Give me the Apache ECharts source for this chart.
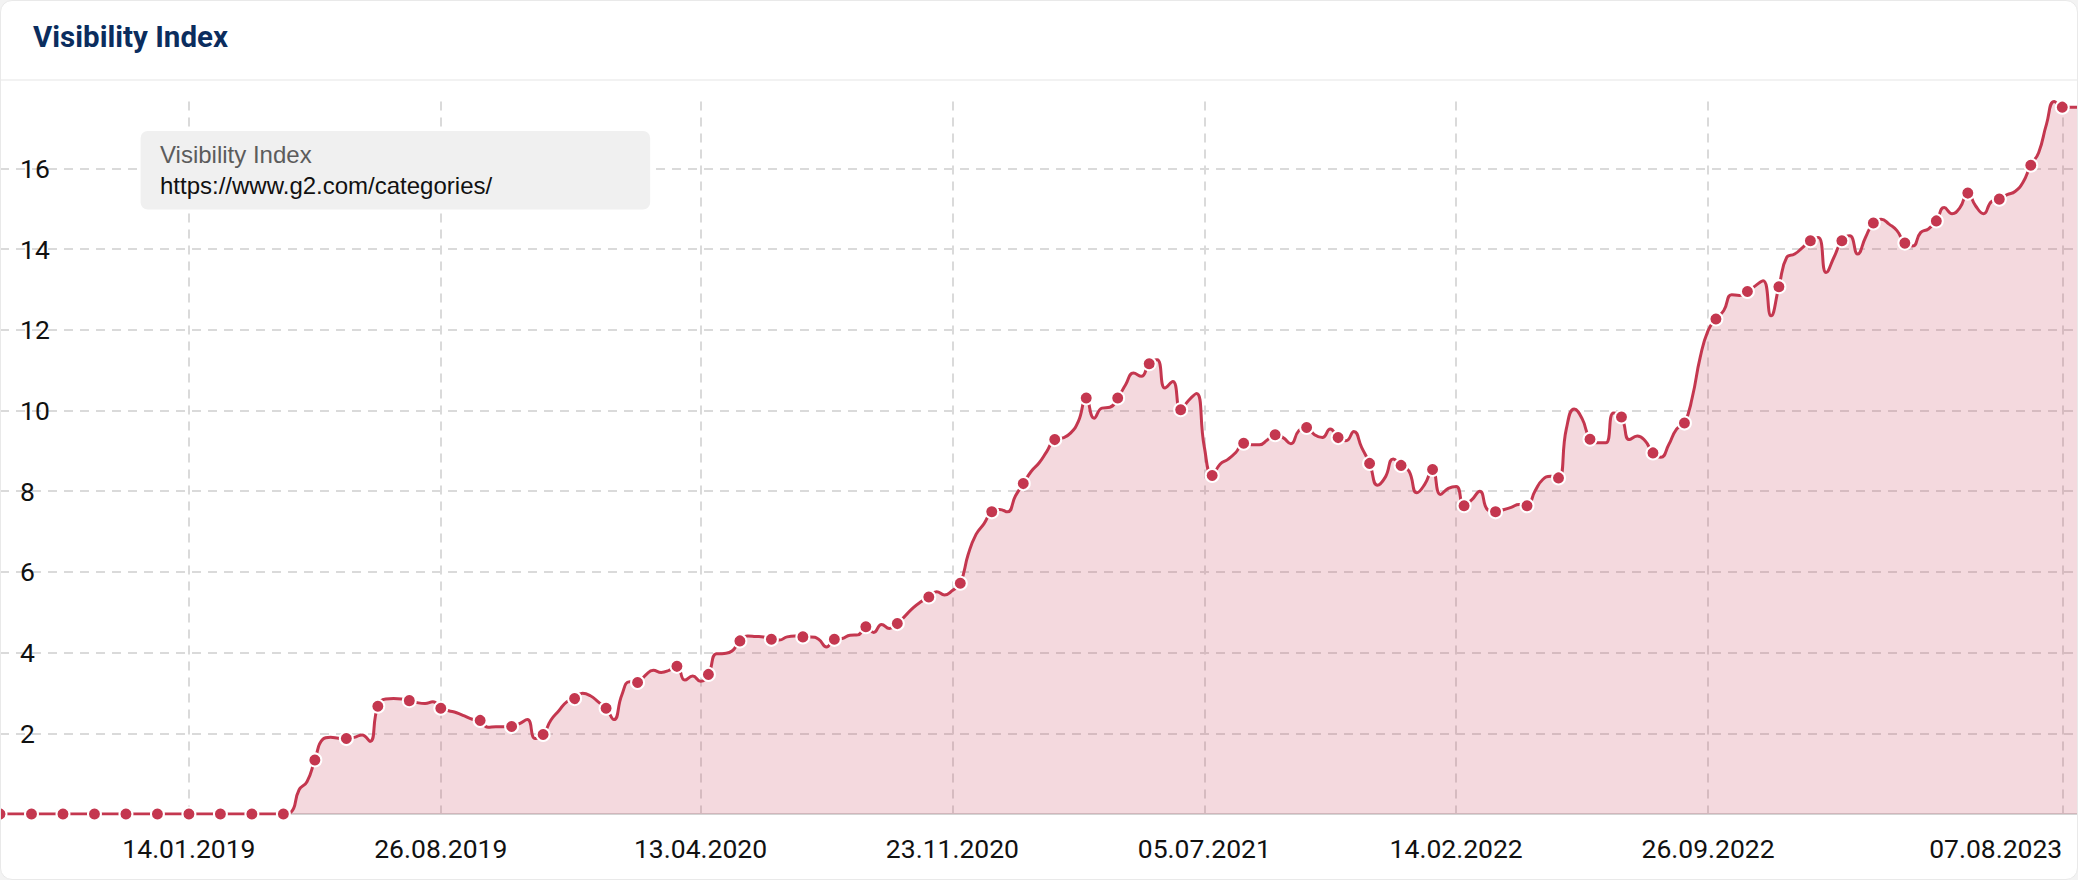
<!DOCTYPE html>
<html>
<head>
<meta charset="utf-8">
<script src="https://cdn.jsdelivr.net/npm/echarts@6/dist/echarts.min.js"></script>
<style>
html, body { margin: 0; padding: 0; width: 2078px; height: 880px; background: #f3f3f3; overflow: hidden; }
#card { position: absolute; left: 0; top: 0; width: 2078px; height: 880px; box-sizing: border-box; background: #fff; border: 1px solid #e9e9e9; border-radius: 12px; overflow: hidden; }
#title { position: absolute; left: 32px; top: 18.5px; margin: 0; font-family: Roboto, sans-serif; font-weight: 700; font-size: 29.5px; line-height: normal; color: #0b2d5e; white-space: nowrap; z-index: 2; }
#sep { position: absolute; left: 0; right: 0; top: 78px; height: 2px; background: #f2f2f2; }
#chart { position: absolute; left: -1px; top: -1px; width: 2078px; height: 880px; }
</style>
</head>
<body>
<div id="card">
  <h1 id="title">Visibility Index</h1>
  <div id="sep"></div>
  <div id="chart"></div>
</div>
<script>
// ---- data ----
const seriesName = 'Visibility Index';
const domainLabel = 'https://www.g2.com/categories/';
const firstWeekUTC = Date.UTC(2018, 6, 30); // 30.07.2018, weekly data
const tickLabels = ['14.01.2019', '26.08.2019', '13.04.2020', '23.11.2020', '05.07.2021', '14.02.2022', '26.09.2022', '07.08.2023'];

// weekly visibility values (index 0 = 30.07.2018)
const weeklyValues = [
  0, 0, 0, 0, 0, 0, 0, 0, 0, 0,
  0, 0, 0, 0, 0, 0, 0, 0, 0, 0,
  0, 0, 0, 0, 0, 0, 0, 0, 0, 0,
  0, 0, 0, 0, 0, 0, 0, 0.05, 0.6, 0.8,
  1.34, 1.85, 1.9, 1.88, 1.87, 1.9, 1.96, 1.8, 2.67, 2.85,
  2.86, 2.85, 2.81, 2.76, 2.74, 2.78, 2.62, 2.56, 2.51, 2.43,
  2.35, 2.32, 2.15, 2.16, 2.16, 2.17, 2.24, 2.34, 1.87, 1.97,
  2.33, 2.56, 2.78, 2.86, 2.99, 2.93, 2.78, 2.62, 2.34, 2.95,
  3.28, 3.26, 3.44, 3.56, 3.51, 3.56, 3.66, 3.32, 3.42, 3.29,
  3.46, 3.97, 3.98, 4.04, 4.29, 4.41, 4.40, 4.39, 4.33, 4.31,
  4.39, 4.41, 4.39, 4.39, 4.33, 4.14, 4.33, 4.35, 4.43, 4.44,
  4.64, 4.5, 4.7, 4.6, 4.72, 4.91, 5.11, 5.26, 5.38, 5.51,
  5.43, 5.54, 5.72, 6.43, 6.93, 7.19, 7.49, 7.55, 7.49, 7.88,
  8.19, 8.49, 8.70, 8.99, 9.28, 9.32, 9.44, 9.73, 10.31, 9.81,
  10.06, 10.08, 10.31, 10.64, 10.93, 10.85, 11.16, 11.26, 10.56, 10.72,
  10.02, 10.25, 10.42, 9.1, 8.39, 8.67, 8.79, 8.96, 9.19, 9.15,
  9.15, 9.27, 9.4, 9.33, 9.18, 9.5, 9.58, 9.4, 9.33, 9.54,
  9.33, 9.25, 9.48, 9.08, 8.69, 8.15, 8.35, 8.8, 8.64, 8.5,
  7.96, 8.17, 8.54, 7.92, 8.07, 8.12, 7.64, 7.79, 8.0, 7.54,
  7.49, 7.54, 7.6, 7.67, 7.64, 8.0, 8.29, 8.37, 8.33, 9.55,
  10.04, 9.8, 9.29, 9.2, 9.2, 9.94, 9.84, 9.28, 9.37, 9.25,
  8.95, 8.84, 9.15, 9.54, 9.69, 10.33, 11.32, 11.98, 12.27, 12.48,
  12.87, 12.85, 12.95, 13.09, 13.22, 12.35, 13.07, 13.8, 13.88, 14.04,
  14.21, 14.29, 13.42, 13.8, 14.21, 14.33, 13.88, 14.29, 14.65, 14.74,
  14.62, 14.46, 14.15, 14.08, 14.41, 14.5, 14.70, 15.03, 14.88, 15.03,
  15.39, 15.07, 14.88, 15.18, 15.24, 15.35, 15.43, 15.65, 16.08, 16.39,
  17.1, 17.66, 17.52, 17.52, 17.52
];

// weeks (index into weeklyValues) that carry a dot marker
const markerWeeks = [
  0, 4, 8, 12, 16, 20, 24, 28, 32, 36, 40, 44, 48, 52, 56, 61, 65, 69, 73, 77,
  81, 86, 90, 94, 98, 102, 106, 110, 114, 118, 122, 126, 130, 134, 138, 142, 146, 150, 154, 158,
  162, 166, 170, 174, 178, 182, 186, 190, 194, 198, 202, 206, 210, 214, 218, 222, 226, 230, 234, 238,
  242, 246, 250, 254, 258, 262
];

// ---- build categories (weekly dates) ----
function pad(n) { return (n < 10 ? '0' : '') + n; }
const categories = weeklyValues.map(function (_, i) {
  const d = new Date(firstWeekUTC + i * 7 * 86400000);
  return pad(d.getUTCDate()) + '.' + pad(d.getUTCMonth() + 1) + '.' + d.getUTCFullYear();
});
const lastTick = tickLabels[tickLabels.length - 1];
const axisData = categories.map(function (c) {
  return c === lastTick ? { value: c, textStyle: { align: 'right' } } : c;
});
const seriesData = weeklyValues.map(function (v, i) {
  return markerWeeks.indexOf(i) >= 0 ? { value: v, symbol: 'circle' } : { value: v, symbol: 'none' };
});
function isTick(idx, val) { return tickLabels.indexOf(val) >= 0; }

const lineColor = '#c4374f';
const gridColor = '#dadada';

const chart = echarts.init(document.getElementById('chart'), null, { renderer: 'svg' });
chart.setOption({
  animation: false,
  grid: { left: 0, right: -1, top: 101.5, bottom: 66 },
  legend: {
    show: true,
    left: 140.6,
    top: 131,
    padding: [11, 158, 12.5, 14.4],
    backgroundColor: '#f0f0f0',
    borderRadius: 7,
    icon: 'none',
    itemWidth: 0,
    itemHeight: 0,
    selectedMode: false,
    formatter: function (name) { return '{a|' + name + '}\n{b|' + domainLabel + '}'; },
    textStyle: {
      rich: {
        a: { fontFamily: 'Liberation Sans', fontSize: 24, lineHeight: 31, color: '#5c5c5c' },
        b: { fontFamily: 'Liberation Sans', fontSize: 24, lineHeight: 31, color: '#111111' }
      }
    }
  },
  xAxis: {
    type: 'category',
    boundaryGap: false,
    data: axisData,
    axisLine: { show: true, lineStyle: { color: '#d4d4d4', width: 2 } },
    axisTick: { show: false },
    axisLabel: { interval: isTick, margin: 21, fontFamily: 'Roboto', fontSize: 26.5, color: '#111111' },
    splitLine: { show: true, interval: isTick, lineStyle: { color: gridColor, width: 2, type: [9, 7] } }
  },
  yAxis: {
    type: 'value',
    min: 0,
    max: 'dataMax',
    interval: 2,
    axisLine: { show: false },
    axisTick: { show: false },
    axisLabel: { inside: true, margin: 20, fontFamily: 'Roboto', fontSize: 26.5, color: '#111111', showMinLabel: false, showMaxLabel: false },
    splitLine: { show: true, showMinLine: false, showMaxLine: false, lineStyle: { color: gridColor, width: 2, type: [9, 7] } }
  },
  series: [{
    type: 'line',
    name: seriesName,
    data: seriesData,
    smooth: true,
    showSymbol: true,
    showAllSymbol: true,
    symbolSize: 13,
    lineStyle: { color: lineColor, width: 3 },
    itemStyle: { color: lineColor, borderColor: '#ffffff', borderWidth: 2 },
    areaStyle: { color: 'rgba(196,55,80,0.19)', opacity: 1 },
    emphasis: { disabled: true }
  }]
});
</script>
</body>
</html>
